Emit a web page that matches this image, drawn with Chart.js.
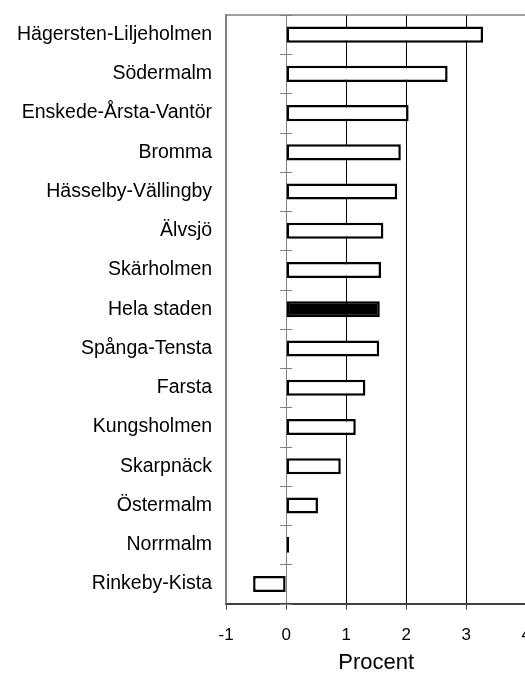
<!DOCTYPE html>
<html>
<head>
<meta charset="utf-8">
<script src="https://cdn.jsdelivr.net/npm/chart.js@4/dist/chart.umd.min.js"></script>
<style>
  html, body { margin: 0; padding: 0; background: #fff; overflow: hidden; }
  #wrap { width: 531px; height: 674px; }
</style>
</head>
<body>
<div id="wrap"><canvas id="procentChart" width="531" height="674"></canvas></div>
<script>
const districts = [
  'Hägersten-Liljeholmen', 'Södermalm', 'Enskede-Årsta-Vantör', 'Bromma',
  'Hässelby-Vällingby', 'Älvsjö', 'Skärholmen', 'Hela staden', 'Spånga-Tensta',
  'Farsta', 'Kungsholmen', 'Skarpnäck', 'Östermalm', 'Norrmalm', 'Rinkeby-Kista'
];
const procent = [3.28, 2.69, 2.04, 1.91, 1.85, 1.62, 1.58, 1.56, 1.55, 1.32, 1.16, 0.91, 0.53, 0.05, -0.55];
const highlighted = 'Hela staden';

const FRAME = '#808080';
const AXIS = '#404040';

// grey frame on top/right, short x ticks below the axis, category ticks on the zero line
const frameAndTicks = {
  id: 'frameAndTicks',
  afterDraw(chart) {
    const { ctx, chartArea: a, scales } = chart;
    ctx.save();
    ctx.strokeStyle = FRAME;
    ctx.lineWidth = 1.5;
    ctx.beginPath();
    ctx.moveTo(a.left, a.top);
    ctx.lineTo(a.right, a.top);
    ctx.lineTo(a.right, a.bottom);
    ctx.stroke();

    ctx.strokeStyle = AXIS;
    ctx.lineWidth = 1;
    ctx.beginPath();
    scales.x.ticks.forEach(t => {
      const x = Math.round(scales.x.getPixelForValue(t.value)) + 0.5;
      ctx.moveTo(x, a.bottom);
      ctx.lineTo(x, a.bottom + 6);
    });
    ctx.stroke();

    const x0 = scales.x.getPixelForValue(0);
    ctx.strokeStyle = FRAME;
    ctx.beginPath();
    for (let i = 0; i <= districts.length; i++) {
      const y = Math.round(scales.y.getPixelForValue(i - 0.5)) + 0.5;
      ctx.moveTo(x0 - 6, y);
      ctx.lineTo(x0 + 6, y);
    }
    ctx.stroke();
    ctx.restore();
  }
};

new Chart(document.getElementById('procentChart'), {
  type: 'bar',
  data: {
    labels: districts,
    datasets: [{
      data: procent,
      backgroundColor: districts.map(d => d === highlighted ? '#000' : '#fff'),
      borderColor: '#000',
      borderWidth: 2.5,
      borderSkipped: false,
      barPercentage: 0.41,
      categoryPercentage: 1
    }]
  },
  options: {
    indexAxis: 'y',
    responsive: false,
    animation: false,
    layout: { padding: { left: 17, top: 15, right: 0, bottom: 0 } },
    plugins: {
      legend: { display: false },
      tooltip: { enabled: false }
    },
    scales: {
      x: {
        min: -1,
        max: 4,
        ticks: {
          stepSize: 1,
          color: '#000',
          padding: 0,
          font: { family: 'Liberation Sans, Arial', size: 17 }
        },
        grid: {
          color: c => c.tick.value === 0 ? FRAME : (c.tick.value === -1 || c.tick.value === 4 ? 'transparent' : '#000'),
          tickColor: 'transparent',
          tickLength: 22
        },
        border: { color: AXIS, width: 2 },
        title: {
          display: true,
          text: 'Procent',
          color: '#000',
          padding: { top: 6, bottom: 0 },
          font: { family: 'Liberation Sans, Arial', size: 22, lineHeight: 1 }
        }
      },
      y: {
        ticks: {
          color: '#000',
          padding: 0,
          font: { family: 'Liberation Sans, Arial', size: 19.5 }
        },
        grid: { drawOnChartArea: false, tickColor: 'transparent', tickLength: 14 },
        border: { color: FRAME, width: 2 }
      }
    }
  },
  plugins: [frameAndTicks]
});
</script>
</body>
</html>
